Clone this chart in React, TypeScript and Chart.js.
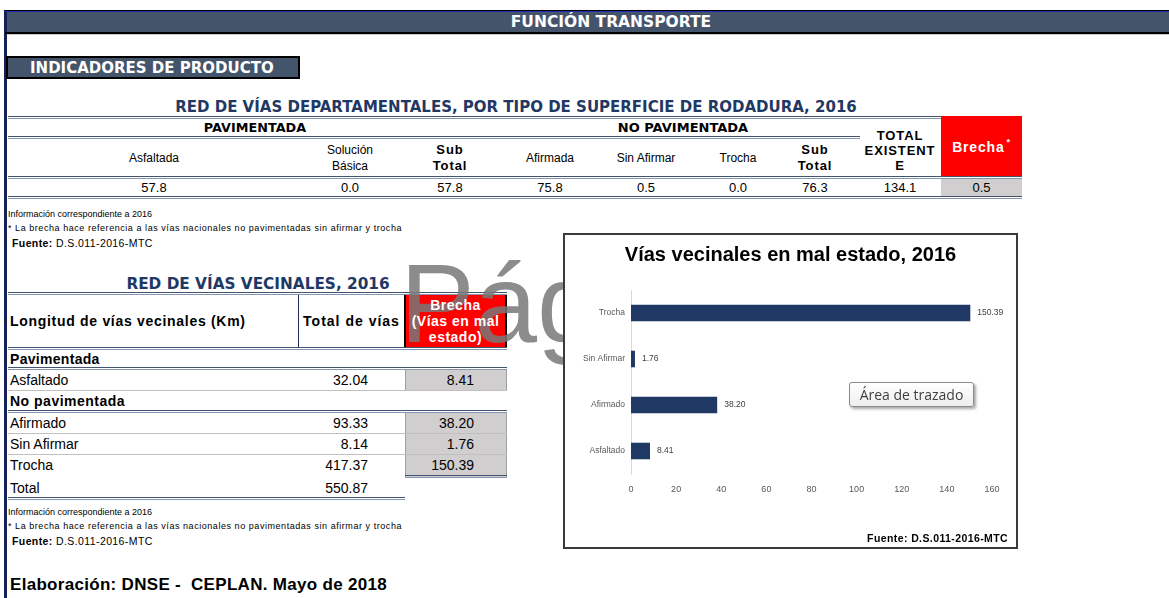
import React, { useEffect, useRef } from "react";
import { Chart, registerables } from "chart.js";

Chart.register(...registerables);

// ---------------- data ----------------
const pageTitle = "FUNCIÓN TRANSPORTE";
const sectionTitle = "INDICADORES DE PRODUCTO";

const deptTitle = "RED DE VÍAS DEPARTAMENTALES, POR TIPO DE SUPERFICIE DE RODADURA, 2016";
const deptGroups = ["PAVIMENTADA", "NO PAVIMENTADA"];
const deptHeaders = ["Asfaltada", "Solución\nBásica", "Sub\nTotal", "Afirmada", "Sin Afirmar", "Trocha", "Sub\nTotal", "TOTAL\nEXISTENT\nE"];
const deptHeaderBold = [false, false, true, false, false, false, true, true];
const deptValues = [57.8, 0.0, 57.8, 75.8, 0.5, 0.0, 76.3, 134.1];
const deptBrechaLabel = "Brecha";
const deptBrecha = 0.5;

const noteLines = [
  "Información correspondiente a 2016",
  "* La brecha hace referencia a las vías nacionales no pavimentadas sin afirmar y trocha",
];
const sourceLabel = "Fuente:";
const sourceText = "D.S.011-2016-MTC";

const vecTitle = "RED DE VÍAS VECINALES, 2016";
const vecHeaders = ["Longitud de vías vecinales (Km)", "Total de vías", "Brecha\n(Vías en mal\nestado)"];
const vecGroups = ["Pavimentada", "No pavimentada"];
const vecRows = ["Asfaltado", "Afirmado", "Sin Afirmar", "Trocha"];
const vecTotals = [32.04, 93.33, 8.14, 417.37];
const vecBrecha = [8.41, 38.2, 1.76, 150.39];
const vecTotalLabel = "Total";
const vecGrandTotal = 550.87;

const chartTitle = "Vías vecinales en mal estado, 2016";
const chartCategories = ["Trocha", "Sin Afirmar", "Afirmado", "Asfaltado"];
const chartValues = [150.39, 1.76, 38.2, 8.41];
const xMin = 0;
const xMax = 160;
const xStep = 20;
const chartSource = "Fuente: D.S.011-2016-MTC";
const plotAreaTip = "Área de trazado";

const footer = "Elaboración: DNSE -  CEPLAN. Mayo de 2018";

// ---------------- helpers ----------------
const FONT = '"Liberation Sans", Arial, sans-serif';
const HEAVY = '"DejaVu Sans", "Liberation Sans", sans-serif';

type BoxProps = {
  l: number; t: number; w: number; h: number;
  align?: "left" | "center" | "right";
  style?: React.CSSProperties;
  children?: React.ReactNode;
};

function B({ l, t, w, h, align = "center", style, children }: BoxProps) {
  return (
    <div
      style={{
        position: "absolute", left: l, top: t, width: w, height: h,
        display: "flex", alignItems: "center",
        justifyContent: align === "left" ? "flex-start" : align === "right" ? "flex-end" : "center",
        textAlign: align, boxSizing: "border-box", whiteSpace: "pre", ...style,
      }}
    >
      {children}
    </div>
  );
}

function DL({ x, y, w }: { x: number; y: number; w: number }) {
  return (
    <div style={{
      position: "absolute", left: x, top: y, width: w, height: 3, boxSizing: "border-box",
      borderTop: "1px solid #44546a", borderBottom: "1px solid #8596b0",
    }} />
  );
}

function SL({ x, y, w, c = "#c0c0c0" }: { x: number; y: number; w: number; c?: string }) {
  return <div style={{ position: "absolute", left: x, top: y, width: w, height: 1, background: c }} />;
}

function Notes({ top }: { top: number }) {
  return (
    <>
      <B l={8} t={top} w={500} h={12} align="left" style={{ fontSize: 9, color: "#000" }}>{noteLines[0]}</B>
      <B l={8} t={top + 14} w={520} h={12} align="left" style={{ fontSize: 9, letterSpacing: 0.55, color: "#000" }}>{noteLines[1]}</B>
      <B l={12} t={top + 29} w={300} h={12} align="left" style={{ fontSize: 10.5, letterSpacing: 0.4, color: "#000" }}>
        <b>{sourceLabel}</b>{" " + sourceText}
      </B>
    </>
  );
}

// ---------------- chart ----------------
function BarChart() {
  const ref = useRef<HTMLCanvasElement>(null);
  useEffect(() => {
    const valueLabels = {
      id: "valueLabels",
      afterDatasetsDraw(chart: any) {
        const ctx = chart.ctx;
        const meta = chart.getDatasetMeta(0);
        ctx.save();
        ctx.font = `8.5px ${FONT}`;
        ctx.fillStyle = "#404040";
        ctx.textBaseline = "middle";
        ctx.textAlign = "left";
        meta.data.forEach((bar: any, i: number) => {
          const v = chart.data.datasets[0].data[i] as number;
          ctx.fillText(v.toFixed(2), bar.x + 7, bar.y);
        });
        ctx.restore();
      },
    };
    const chart = new Chart(ref.current!, {
      type: "bar",
      data: {
        labels: chartCategories,
        datasets: [{
          data: chartValues, backgroundColor: "#203864",
          barPercentage: 0.36, categoryPercentage: 1, yAxisID: "y",
        }],
      },
      options: {
        indexAxis: "y",
        animation: false,
        responsive: false,
        maintainAspectRatio: false,
        layout: { padding: { left: 0, right: 0, top: 0, bottom: 48 } },
        plugins: {
          legend: { display: false },
          tooltip: { enabled: false },
          title: {
            display: true, text: chartTitle, color: "#000",
            font: { size: 20, weight: "bold", family: FONT },
            padding: { top: 8, bottom: 23 },
          },
        },
        scales: {
          x: {
            min: xMin, max: xMax,
            ticks: { stepSize: xStep, color: "#595959", font: { size: 9, family: FONT }, padding: 10 },
            grid: { display: false, drawTicks: false },
            border: { display: false },
            afterFit(s: any) { s.height = 25; },
          },
          y: {
            position: "left",
            ticks: { color: "#595959", font: { size: 8.5, family: FONT }, padding: 6 },
            grid: { display: false, drawTicks: false },
            border: { display: true, color: "#d9d9d9", width: 1 },
            afterFit(s: any) { s.width = 66; },
          },
          yRight: {
            type: "linear", axis: "y", position: "right", display: true,
            ticks: { display: false },
            grid: { display: false, drawTicks: false },
            border: { display: false },
            afterFit(s: any) { s.width = 24; },
          },
        },
      } as any,
      plugins: [valueLabels],
    });
    return () => chart.destroy();
  }, []);
  return <canvas ref={ref} width={451} height={312} style={{ position: "absolute", left: 0, top: 0, width: 451, height: 312 }} />;
}

// ---------------- page ----------------
export default function App() {
  const colC = [154, 350, 450, 550, 646, 738, 815, 900];
  const colW = [290, 96, 96, 96, 90, 90, 70, 80];
  const grayCell = (top: number, h: number) => (
    <div style={{ position: "absolute", left: 405, top, width: 102, height: h, background: "#d0cece", borderLeft: "1px solid #a0a0a0", borderRight: "1px solid #a0a0a0", boxSizing: "border-box" }} />
  );
  return (
    <div style={{ position: "absolute", left: 0, top: 0, width: 1169, height: 598, background: "#fff", overflow: "hidden", fontFamily: FONT, color: "#000" }}>
      {/* frame */}
      <div style={{ position: "absolute", left: 4, top: 10, width: 3, height: 588, background: "#16215a" }} />
      <div style={{ position: "absolute", left: 5, top: 10, width: 1164, height: 1, background: "#000" }} />
      <div style={{ position: "absolute", left: 5, top: 11, width: 1164, height: 1, background: "#2030b0" }} />
      <div style={{ position: "absolute", left: 7, top: 12, width: 1162, height: 20, background: "#44546a" }} />
      <div style={{ position: "absolute", left: 5, top: 32, width: 1164, height: 2, background: "#000" }} />
      <div style={{ position: "absolute", left: 7, top: 34, width: 1162, height: 1, background: "#c8c8c8" }} />
      <B l={411} t={12} w={400} h={20} style={{ color: "#fff", fontWeight: "bold", fontSize: 15.5, fontFamily: HEAVY }}>{pageTitle}</B>

      {/* section label */}
      <div style={{ position: "absolute", left: 6, top: 56, width: 294, height: 23, background: "#44546a", border: "2px solid #000", boxSizing: "border-box" }} />
      <B l={30} t={56} w={270} h={23} align="left" style={{ color: "#fff", fontWeight: "bold", fontSize: 15, fontFamily: HEAVY }}>{sectionTitle}</B>

      {/* departmental table */}
      <B l={66} t={98} w={900} h={17} style={{ color: "#1f3864", fontWeight: "bold", fontSize: 15, fontFamily: HEAVY }}>{deptTitle}</B>
      <DL x={8} y={116} w={933} />
      <B l={150} t={119} w={210} h={17} style={{ fontWeight: "bold", fontSize: 12.8, fontFamily: HEAVY }}>{deptGroups[0]}</B>
      <B l={573} t={119} w={220} h={17} style={{ fontWeight: "bold", fontSize: 13, fontFamily: HEAVY }}>{deptGroups[1]}</B>
      <DL x={8} y={136} w={852} />
      {deptHeaders.map((h, i) => (
        <B key={"h" + i} l={colC[i] - colW[i] / 2} t={i === 7 ? 119 : 139} w={colW[i]} h={i === 7 ? 57 : 37}
          style={{ fontSize: deptHeaderBold[i] ? 13 : 12, fontWeight: deptHeaderBold[i] ? "bold" : "normal", lineHeight: i === 7 ? "15px" : "16px", letterSpacing: deptHeaderBold[i] ? 0.9 : 0, paddingTop: i === 7 ? 6 : 0 }}>
          {h}
        </B>
      ))}
      <div style={{ position: "absolute", left: 941, top: 116, width: 81, height: 61, background: "#ff0000" }} />
      <B l={941} t={116} w={81} h={61} style={{ color: "#fff", fontWeight: "bold", fontSize: 14, letterSpacing: 0.8 }}>
        <span>{deptBrechaLabel}</span><span style={{ fontSize: 9, position: "relative", top: -5, marginLeft: 2 }}>*</span>
      </B>
      <DL x={8} y={176} w={1014} />
      <div style={{ position: "absolute", left: 941, top: 179, width: 81, height: 17, background: "#d0cece" }} />
      {deptValues.map((v, i) => (
        <B key={"v" + i} l={colC[i] - colW[i] / 2} t={179} w={colW[i]} h={17} style={{ fontSize: 13 }}>{v.toFixed(1)}</B>
      ))}
      <B l={941} t={179} w={81} h={17} style={{ fontSize: 13 }}>{deptBrecha.toFixed(1)}</B>
      <DL x={8} y={196} w={1014} />

      <Notes top={208} />

      {/* vecinal table */}
      <B l={58} t={275} w={400} h={17} style={{ color: "#1f3864", fontWeight: "bold", fontSize: 15.3, fontFamily: HEAVY }}>{vecTitle}</B>
      <DL x={8} y={292} w={499} />
      <B l={10} t={295} w={285} h={52} align="left" style={{ fontWeight: "bold", fontSize: 14, letterSpacing: 0.7 }}>{vecHeaders[0]}</B>
      <div style={{ position: "absolute", left: 298, top: 295, width: 1, height: 52, background: "#1f2a5a" }} />
      <B l={299} t={295} w={105} h={52} style={{ fontWeight: "bold", fontSize: 14, letterSpacing: 1.0 }}>{vecHeaders[1]}</B>
      <div style={{ position: "absolute", left: 404, top: 295, width: 103, height: 52, background: "#ff0000", borderLeft: "2px solid #000", borderRight: "2px solid #000", boxSizing: "border-box" }} />

      {/* watermark */}
      <div style={{ position: "absolute", left: 400, top: 248, fontSize: 112, lineHeight: "112px", color: "rgba(120,120,120,0.85)", fontFamily: FONT, whiteSpace: "pre" }}>Pág</div>

      <B l={404} t={295} w={103} h={52} style={{ color: "#fff", fontWeight: "bold", fontSize: 14, lineHeight: "16px", letterSpacing: 0.5 }}>{vecHeaders[2]}</B>
      <DL x={8} y={347} w={499} />

      <B l={10} t={350} w={285} h={18} align="left" style={{ fontWeight: "bold", fontSize: 14, letterSpacing: 0.3 }}>{vecGroups[0]}</B>
      <DL x={8} y={367} w={499} />
      {grayCell(370, 20)}
      <B l={10} t={370} w={285} h={20} align="left" style={{ fontSize: 14 }}>{vecRows[0]}</B>
      <B l={298} t={370} w={70} h={20} align="right" style={{ fontSize: 14 }}>{vecTotals[0].toFixed(2)}</B>
      <B l={406} t={370} w={68} h={20} align="right" style={{ fontSize: 14 }}>{vecBrecha[0].toFixed(2)}</B>
      <SL x={8} y={390} w={499} />
      <B l={10} t={391} w={285} h={19} align="left" style={{ fontWeight: "bold", fontSize: 14, letterSpacing: 0.5 }}>{vecGroups[1]}</B>
      <DL x={8} y={410} w={499} />
      {[1, 2, 3].map((i, k) => {
        const top = 413 + k * 21;
        return (
          <React.Fragment key={"r" + i}>
            {grayCell(top, k < 2 ? 21 : 22)}
            <B l={10} t={top} w={285} h={20} align="left" style={{ fontSize: 14 }}>{vecRows[i]}</B>
            <B l={298} t={top} w={70} h={20} align="right" style={{ fontSize: 14 }}>{vecTotals[i].toFixed(2)}</B>
            <B l={406} t={top} w={68} h={20} align="right" style={{ fontSize: 14 }}>{vecBrecha[i].toFixed(2)}</B>
            {k < 2 && <SL x={8} y={top + 20} w={499} />}
          </React.Fragment>
        );
      })}
      <DL x={405} y={475} w={102} />
      <B l={10} t={478} w={285} h={19} align="left" style={{ fontSize: 14 }}>{vecTotalLabel}</B>
      <B l={298} t={478} w={70} h={19} align="right" style={{ fontSize: 14 }}>{vecGrandTotal.toFixed(2)}</B>
      <DL x={8} y={497} w={397} />

      <Notes top={506} />

      <B l={10} t={575} w={500} h={20} align="left" style={{ fontWeight: "bold", fontSize: 17, letterSpacing: 0.3 }}>{footer}</B>

      {/* chart box */}
      <div style={{ position: "absolute", left: 563, top: 233, width: 455, height: 316, border: "2px solid #3a3a3a", boxSizing: "border-box", background: "#fff" }}>
        <BarChart />
        <B l={200} t={296} w={243} h={14} align="right" style={{ fontWeight: "bold", fontSize: 10.5, letterSpacing: 0.4 }}>{chartSource}</B>
        <div style={{
          position: "absolute", left: 284, top: 147, width: 125, height: 25, boxSizing: "border-box",
          border: "1px solid #8a8a8a", borderRadius: 3, background: "linear-gradient(#ffffff, #eeeeee)",
          boxShadow: "2px 2px 3px rgba(0,0,0,0.35)", display: "flex", alignItems: "center", justifyContent: "center",
          fontFamily: '"Open Sans", "Noto Sans", sans-serif', fontSize: 14, color: "#404040", whiteSpace: "pre",
        }}>{plotAreaTip}</div>
      </div>
    </div>
  );
}
